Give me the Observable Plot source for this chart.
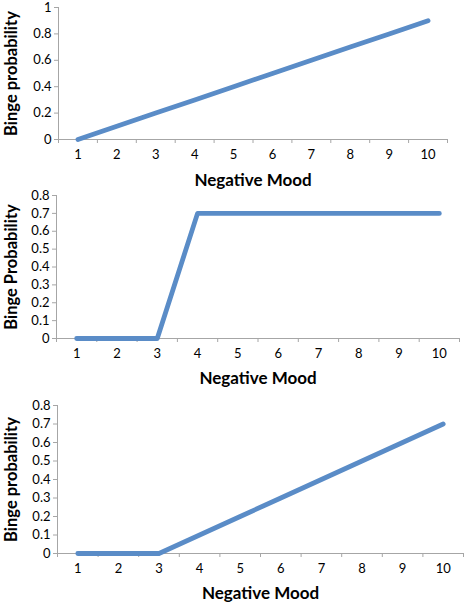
<!DOCTYPE html>
<html><head><meta charset="utf-8">
<script src="https://cdn.jsdelivr.net/npm/d3@7"></script>
<script src="https://cdn.jsdelivr.net/npm/@observablehq/plot@0.6"></script>
<style>
body{margin:0;background:#fff;width:473px;height:602px;overflow:hidden;position:relative;}
.chart{position:absolute;left:0;}
</style>
</head><body>
<div id="c1" class="chart" style="top:0px"></div>
<div id="c2" class="chart" style="top:190px"></div>
<div id="c3" class="chart" style="top:400px"></div>
<script>
const mood = [1, 2, 3, 4, 5, 6, 7, 8, 9, 10];
const binge1 = [0, 0.1, 0.2, 0.3, 0.4, 0.5, 0.6, 0.7, 0.8, 0.9];
const binge2 = [0, 0, 0, 0.7, 0.7, 0.7, 0.7, 0.7, 0.7, 0.7];
const binge3 = [0, 0, 0, 0.1, 0.2, 0.3, 0.4, 0.5, 0.6, 0.7];
const yTicks1 = [0, 0.2, 0.4, 0.6, 0.8, 1];
const yTicks23 = [0, 0.1, 0.2, 0.3, 0.4, 0.5, 0.6, 0.7, 0.8];
const xLabel = "Negative Mood";
const yLabel1 = "Binge probability";
const yLabel2 = "Binge Probability";
const yLabel3 = "Binge probability";

const LINE = "#5a8cc7";
const AXIS = "#a6a6a6";

function chart(values, yTicks, ylabel, height, mt, mb, ml, mr, titleDy) {
  const data = mood.map((m, i) => ({m, v: values[i]}));
  const x0 = mood[0] - 0.5, x1 = mood[mood.length - 1] + 0.5;
  const bounds = d3.range(mood.length + 1).map(i => x0 + i);
  const yDomain = [yTicks[0], yTicks[yTicks.length - 1]];
  return Plot.plot({
    width: 473, height,
    marginTop: mt, marginBottom: mb, marginLeft: ml, marginRight: mr,
    style: {fontFamily: "Lato, 'Open Sans', sans-serif", fontSize: "13px", color: "#000", background: "white", overflow: "visible"},
    x: {domain: [x0, x1]},
    y: {domain: yDomain},
    marks: [
      Plot.axisY({ticks: yTicks, tickFormat: d => `${d}`, tickSize: 4, tickPadding: 3, label: null, stroke: AXIS}),
      Plot.axisX({ticks: bounds, tickFormat: () => "", tickSize: 4, label: null, stroke: AXIS}),
      Plot.axisX({ticks: mood, tickFormat: d => `${d}`, tickSize: 0, tickPadding: 10, label: null}),
      Plot.ruleY([yDomain[0]], {stroke: AXIS, strokeWidth: 1}),
      Plot.ruleX([x0], {stroke: AXIS, strokeWidth: 1}),
      Plot.line(data, {x: "m", y: "v", stroke: LINE, strokeWidth: 4.8, strokeLinecap: "round", strokeLinejoin: "round"}),
      Plot.text([xLabel], {frameAnchor: "bottom", dy: titleDy, textAnchor: "middle", lineAnchor: "middle", fontWeight: "bold", fontSize: 17, fill: "#000"}),
      Plot.text([ylabel], {frameAnchor: "left", dx: -(ml - 11), rotate: -90, textAnchor: "middle", lineAnchor: "middle", fontWeight: "bold", fontSize: 16.5, fill: "#000"})
    ]
  });
}

document.getElementById("c1").append(chart(binge1, yTicks1, yLabel1, 190, 7, 51, 58, 26, 41));
document.getElementById("c2").append(chart(binge2, yTicks23, yLabel2, 210, 5, 62, 56, 14, 40));
document.getElementById("c3").append(chart(binge3, yTicks23, yLabel3, 202, 5, 49, 57, 10, 40));
</script>
</body></html>
